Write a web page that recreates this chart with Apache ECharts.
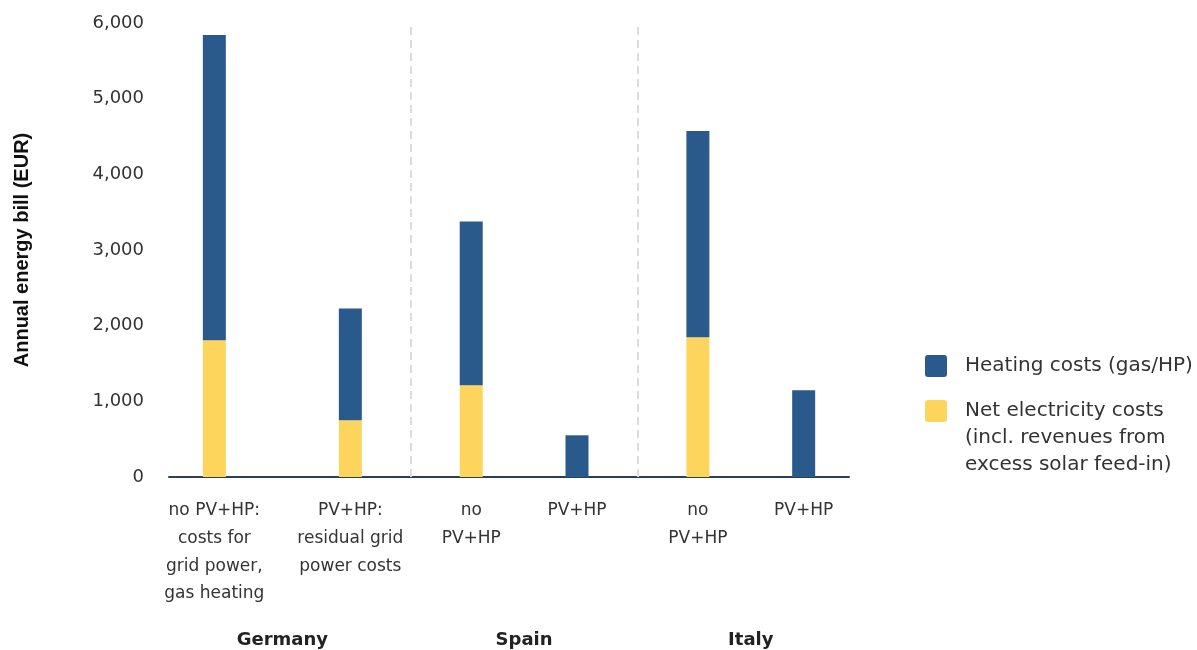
<!DOCTYPE html>
<html>
<head>
<meta charset="utf-8">
<script src="https://cdn.jsdelivr.net/npm/echarts@6/dist/echarts.min.js"></script>
<style>
  html, body { margin: 0; padding: 0; background: #ffffff; }
  #chart { width: 1197px; height: 650px; }
</style>
</head>
<body>
<div id="chart"></div>
<script>
// ---- data ----
const barLabels = [
  'no PV+HP:\ncosts for\ngrid power,\ngas heating',
  'PV+HP:\nresidual grid\npower costs',
  'no\nPV+HP',
  'PV+HP',
  'no\nPV+HP',
  'PV+HP'
];
const countries = ['Germany', 'Spain', 'Italy'];
const electricityCosts = [1808, 750, 1213, 0, 1847, 0];
const heatingCosts = [4032, 1477, 2165, 551, 2725, 1146];
const seriesNames = [
  'Heating costs (gas/HP)',
  'Net electricity costs (incl. revenues from excess solar feed-in)'
];
const legendLabels = [
  'Heating costs (gas/HP)',
  'Net electricity costs\n(incl. revenues from\nexcess solar feed-in)'
];
const yTicks = [0, 1000, 2000, 3000, 4000, 5000, 6000];

// ---- layout: spacer slots between bars on the category axis ----
const slotGaps = [3, 9, 8, 7, 8, 7];
const trailingSlots = 3;

const slots = [];
let pos = 0;
slotGaps.forEach(g => { pos += g; slots.push(pos); });
const totalSlots = pos + trailingSlots + 1;

const xCats = new Array(totalSlots).fill('');
const elecData = new Array(totalSlots).fill('-');
const heatData = new Array(totalSlots).fill('-');
slots.forEach((s, i) => {
  xCats[s] = barLabels[i];
  elecData[s] = electricityCosts[i];
  heatData[s] = heatingCosts[i];
});

// separators between country groups (midpoints between groups)
const separators = [(slots[1] + slots[2]) / 2, (slots[3] + slots[4]) / 2];

// group label axis at half-slot resolution
const groupCats = new Array(2 * (totalSlots - 1) + 1).fill('');
for (let g = 0; g < countries.length; g++) {
  groupCats[slots[2 * g] + slots[2 * g + 1]] = countries[g];
}

const BLUE = '#2a598b';
const YELLOW = '#fdd55c';
const TXT = '#333333';
const ICON = 'path://M3,0 H19 Q22,0 22,3 V19 Q22,22 19,22 H3 Q0,22 0,19 V3 Q0,0 3,0 Z';

// multi-line legend text: keep the first line level with the icon
function alignFirstLine(text) {
  const n = text.split('\n').length;
  return '\n'.repeat(n - 1) + text;
}

const chart = echarts.init(document.getElementById('chart'), null, { renderer: 'canvas' });

const legendText = {
  fontFamily: 'DejaVu Sans',
  fontSize: 20,
  color: TXT,
  lineHeight: 27,
  padding: [0, 0, 0, 13]
};

chart.setOption({
  animation: false,
  backgroundColor: '#ffffff',
  grid: {
    left: 169, right: 348, top: 23, bottom: 173,
    containLabel: false,
    outerBoundsMode: 'none'
  },
  legend: [
    {
      data: [seriesNames[0]],
      orient: 'vertical',
      left: 925, top: 352.5,
      padding: 0,
      itemWidth: 22, itemHeight: 22,
      icon: ICON,
      formatter: () => alignFirstLine(legendLabels[0]),
      textStyle: legendText,
      selectedMode: false
    },
    {
      data: [seriesNames[1]],
      orient: 'vertical',
      left: 925, top: 343.5,
      padding: 0,
      itemWidth: 22, itemHeight: 22,
      icon: ICON,
      formatter: () => alignFirstLine(legendLabels[1]),
      textStyle: legendText,
      selectedMode: false
    }
  ],
  xAxis: [
    {
      type: 'category',
      data: xCats,
      boundaryGap: false,
      axisLine: { show: true, lineStyle: { color: '#2b3f57', width: 2 } },
      axisTick: { show: false },
      splitLine: { show: false },
      axisLabel: {
        interval: 0,
        margin: 20,
        color: TXT,
        fontFamily: 'DejaVu Sans',
        fontSize: 17,
        lineHeight: 27.7,
        align: 'center'
      }
    },
    {
      type: 'category',
      data: groupCats,
      boundaryGap: false,
      position: 'bottom',
      offset: 143,
      axisLine: { show: false },
      axisTick: { show: false },
      splitLine: { show: false },
      axisLabel: {
        interval: 0,
        margin: 8,
        color: '#222222',
        fontFamily: 'DejaVu Sans',
        fontWeight: 'bold',
        fontSize: 18,
        lineHeight: 24
      }
    }
  ],
  yAxis: {
    type: 'value',
    min: yTicks[0],
    max: yTicks[yTicks.length - 1],
    interval: yTicks[1] - yTicks[0],
    name: 'Annual energy bill (EUR)',
    nameLocation: 'middle',
    nameRotate: 90,
    nameGap: 137,
    nameTextStyle: {
      fontFamily: 'Liberation Sans',
      fontWeight: 'bold',
      fontSize: 20,
      color: '#111111'
    },
    axisLine: { show: false },
    axisTick: { show: false },
    splitLine: { show: false },
    axisLabel: {
      margin: 25,
      color: TXT,
      fontFamily: 'DejaVu Sans',
      fontSize: 18,
      formatter: v => v.toLocaleString('en-US')
    }
  },
  series: [
    {
      name: seriesNames[1],
      type: 'bar',
      stack: 'bill',
      xAxisIndex: 0,
      barWidth: 23,
      itemStyle: { color: YELLOW },
      data: elecData,
      markLine: {
        silent: true,
        symbol: ['none', 'none'],
        label: { show: false },
        lineStyle: { type: [8, 5], color: '#dcdcdc', width: 2 },
        data: separators.map(s => ({ xAxis: s }))
      }
    },
    {
      name: seriesNames[0],
      type: 'bar',
      stack: 'bill',
      xAxisIndex: 0,
      barWidth: 23,
      itemStyle: { color: BLUE },
      data: heatData
    }
  ]
});
</script>
</body>
</html>
